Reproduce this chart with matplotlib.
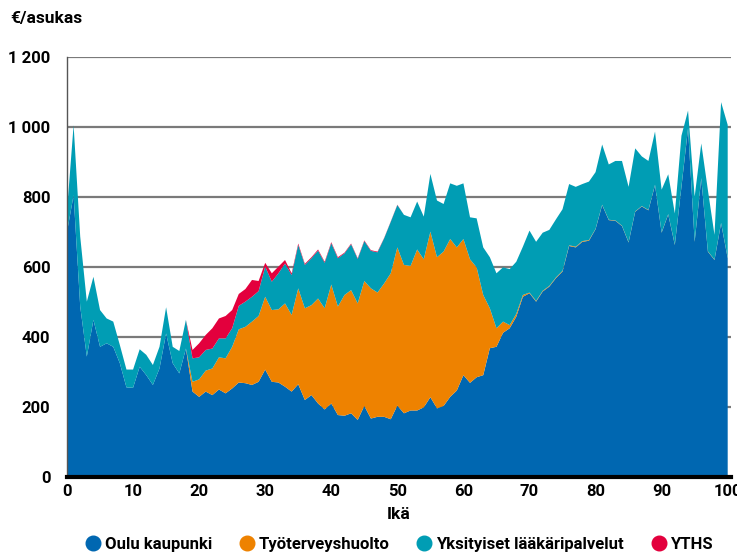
import matplotlib.pyplot as plt
from matplotlib.ticker import FuncFormatter
from matplotlib.lines import Line2D

plt.rcParams['font.family'] = ['Roboto', 'DejaVu Sans']

# ages 0..100
ika = list(range(101))

oulu = [700, 805, 487, 344, 449, 372, 382, 372, 325, 256,
        255, 315, 291, 263, 310, 410, 325, 296, 367, 244,
        229, 244, 234, 250, 239, 253, 270, 268, 263, 272,
        307, 272, 270, 258, 244, 265, 220, 234, 210, 193,
        210, 177, 175, 182, 163, 203, 167, 172, 172, 165,
        204, 182, 190, 190, 199, 228, 196, 203, 229, 247,
        291, 269, 285, 291, 368, 372, 412, 425, 458, 515,
        525, 501, 530, 544, 568, 587, 660, 656, 672, 675,
        708, 777, 734, 732, 717, 670, 758, 773, 762, 834,
        698, 750, 663, 829, 996, 672, 853, 644, 620, 725,
        625]

tyoterveys = [0] * 19 + [
    28, 50, 60, 76, 92, 100, 119, 152, 161, 181,
    188, 208, 205, 209, 238, 219, 274, 262, 257, 300,
    289, 340, 310, 345, 352, 333, 357, 372, 355, 381,
    417, 452, 424, 413, 460, 423, 473, 432, 441, 451,
    409, 389, 353, 314, 229, 114, 53, 32, 9, 8,
    5, 2, 2, 2, 2, 2, 2, 2, 2, 2,
    2, 1, 1, 1, 1, 1, 1, 1, 1, 1,
    1, 1, 1, 1, 1, 1, 1, 1, 1, 1,
    1, 1]

yksityiset = [60, 200, 200, 157, 123, 105, 71, 72, 52, 51,
              52, 50, 58, 57, 62, 75, 47, 64, 82, 67,
              63, 59, 57, 54, 57, 53, 67, 72, 71, 71,
              86, 81, 103, 114, 114, 124, 124, 134, 137, 130,
              118, 138, 119, 131, 127, 114, 107, 115, 129, 147,
              121, 143, 139, 137, 122, 165, 162, 136, 159, 176,
              159, 120, 140, 136, 146, 157, 155, 160, 149, 138,
              177, 169, 166, 160, 166, 176, 175, 171, 163, 167,
              162, 172, 158, 170, 185, 158, 180, 142, 140, 152,
              122, 114, 89, 145, 50, 128, 99, 175, 71, 345,
              380]

yths = [0] * 19 + [
    24, 40, 43, 58, 57, 64, 52, 34, 36, 48,
    29, 11, 24, 19, 10, 5, 4, 3, 3, 3,
    3, 3, 3, 2, 2, 2, 2, 2, 2, 1,
    1, 1] + [0] * 50

sarjat = ["Oulu kaupunki", "Työterveyshuolto", "Yksityiset lääkäripalvelut", "YTHS"]
varit = ["#0067B1", "#EE8200", "#009DB4", "#E3003D"]

fig = plt.figure(figsize=(7.37, 5.55), dpi=100)
ax = fig.add_axes([67 / 737, 78 / 555, 664 / 737, 420 / 555])

ax.stackplot(ika, oulu, tyoterveys, yksityiset, yths, colors=varit, linewidth=0)

ax.set_xlim(0, 100.5)
ax.set_ylim(0, 1200)
ax.set_yticks(range(0, 1201, 200))
ax.set_xticks(range(0, 101, 10))
ax.yaxis.set_major_formatter(FuncFormatter(lambda v, p: f"{int(v):,}".replace(",", " ")))

ax.grid(axis='y', color='#7a7a7a', linewidth=1.6)
ax.set_axisbelow(True)
ax.tick_params(length=0, labelsize=12)
ax.tick_params(axis='x', pad=5)
ax.tick_params(axis='y', pad=12)
for lab in ax.get_xticklabels() + ax.get_yticklabels():
    lab.set_fontweight('bold')

ax.spines['right'].set_visible(False)
ax.spines['top'].set_visible(False)
ax.spines['left'].set_color('#555555')
ax.spines['left'].set_linewidth(1.0)
ax.spines['bottom'].set_color('black')
ax.spines['bottom'].set_linewidth(3)

ax.set_xlabel("Ikä", fontsize=12.5, fontweight='bold', labelpad=6)
fig.text(10 / 737, 1 - 18 / 555, "€/asukas", fontsize=12.5, fontweight='semibold', va='center')

handles = [Line2D([], [], marker='o', linestyle='none', markersize=10.5, color=c) for c in varit]
fig.legend(handles, sarjat, loc='lower center', bbox_to_anchor=(0.54, -0.012), ncol=4,
           frameon=False, handletextpad=0.1, columnspacing=1.5, borderaxespad=0.2,
           handlelength=1.2, prop={'weight': 'bold', 'size': 12})

fig.savefig("out.png", dpi=100)
